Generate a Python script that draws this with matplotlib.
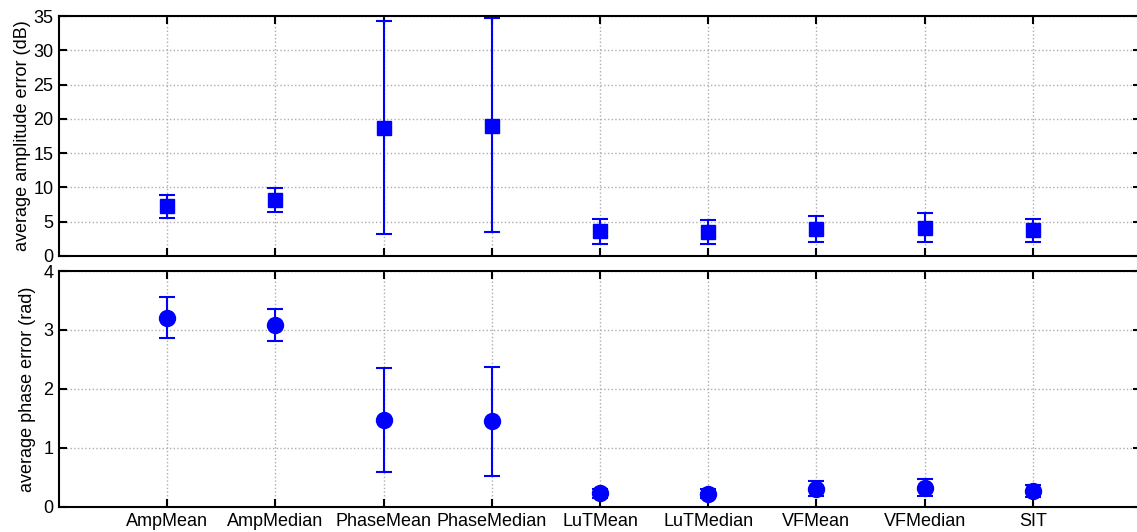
import matplotlib
matplotlib.use("Agg")
import matplotlib.pyplot as plt
import numpy as np

plt.rcParams["font.family"] = ["Liberation Sans", "DejaVu Sans"]

methods = ["AmpMean", "AmpMedian", "PhaseMean", "PhaseMedian", "LuTMean",
           "LuTMedian", "VFMean", "VFMedian", "SIT"]

# average amplitude error (dB): value, upper end, lower end of error bar
amp_val = [7.3, 8.2, 18.7, 19.0, 3.6, 3.5, 3.9, 4.1, 3.8]
amp_hi = [8.9, 9.9, 34.3, 34.7, 5.4, 5.25, 5.8, 6.2, 5.4]
amp_lo = [5.6, 6.4, 3.2, 3.5, 1.8, 1.8, 2.0, 2.0, 2.1]

# average phase error (rad)
ph_val = [3.21, 3.09, 1.47, 1.45, 0.23, 0.22, 0.31, 0.32, 0.27]
ph_hi = [3.56, 3.35, 2.36, 2.38, 0.31, 0.30, 0.44, 0.47, 0.38]
ph_lo = [2.86, 2.82, 0.60, 0.53, 0.15, 0.15, 0.18, 0.19, 0.17]

x = np.arange(1, len(methods) + 1)
blue = (0, 0, 1)

fig = plt.figure(figsize=(11.37, 5.32), dpi=100)
ax_amp = fig.add_axes([0.0519, 0.5188, 0.9516, 0.4511])
ax_ph = fig.add_axes([0.0519, 0.0470, 0.9516, 0.4436])


def style(ax):
    ax.set_xlim(0, 10)
    ax.set_xticks(x)
    ax.grid(True, color=(0.68, 0.68, 0.68), linestyle=":", linewidth=1.0)
    ax.set_axisbelow(True)
    ax.tick_params(direction="in", length=6, width=1.5, top=True, right=True,
                   labelsize=13, pad=4)
    for s in ax.spines.values():
        s.set_linewidth(1.5)


val = np.array(amp_val)
ax_amp.errorbar(x, val, yerr=[val - np.array(amp_lo), np.array(amp_hi) - val],
                fmt="s", color=blue, markersize=10, elinewidth=1.5,
                capsize=6, capthick=1.5)
style(ax_amp)
ax_amp.set_ylim(0, 35)
ax_amp.set_yticks(np.arange(0, 36, 5))
ax_amp.set_xticklabels([])
ax_amp.set_ylabel("average amplitude error (dB)", fontsize=13, labelpad=2)

val = np.array(ph_val)
ax_ph.errorbar(x, val, yerr=[val - np.array(ph_lo), np.array(ph_hi) - val],
               fmt="o", color=blue, markersize=11.5, elinewidth=1.5,
               capsize=6, capthick=1.5)
style(ax_ph)
ax_ph.set_ylim(0, 4)
ax_ph.set_yticks(np.arange(0, 5, 1))
ax_ph.set_xticklabels(methods)
ax_ph.set_ylabel("average phase error (rad)", fontsize=13, labelpad=5)

fig.savefig("out.png", dpi=100)
